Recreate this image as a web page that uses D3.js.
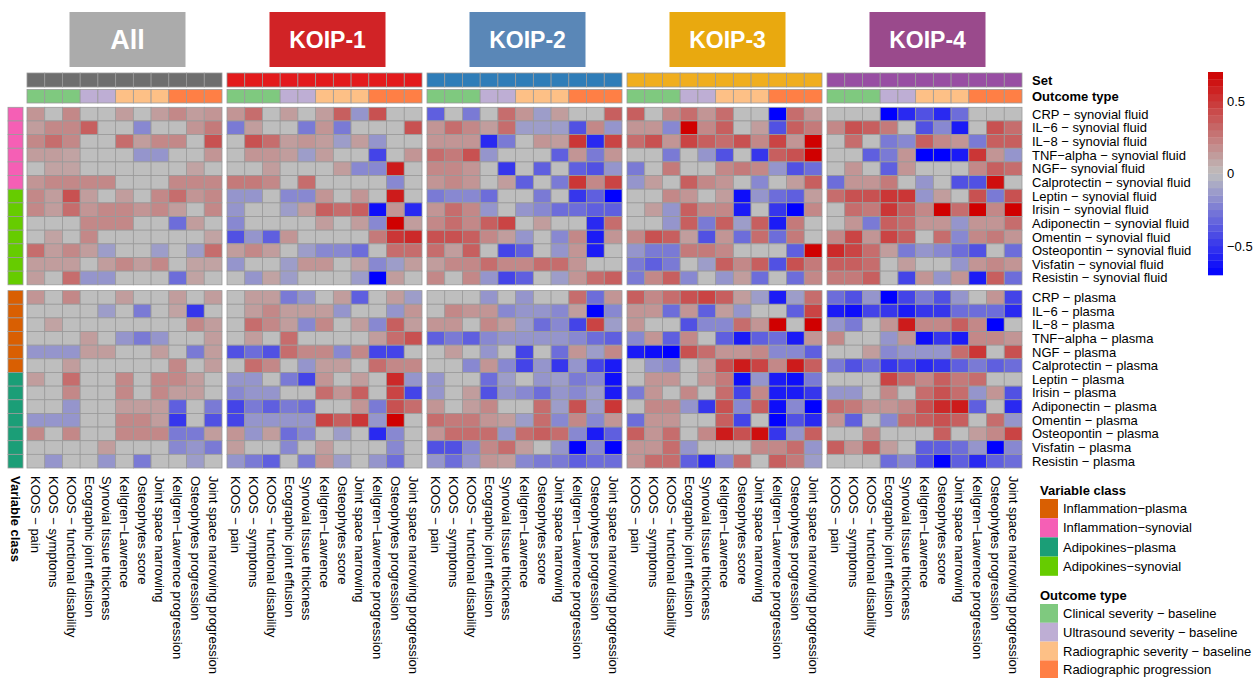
<!DOCTYPE html>
<html>
<head>
<meta charset="utf-8">
<script src="https://cdn.jsdelivr.net/npm/d3@7"></script>
<style>
  html, body { margin: 0; padding: 0; background: #fff; }
  svg { display: block; font-family: "Liberation Sans", Arial, sans-serif; }
</style>
</head>
<body>
<svg id="chart" width="1260" height="678"></svg>
<script>
// ---- Data ---------------------------------------------------------------
const panels = ["All", "KOIP-1", "KOIP-2", "KOIP-3", "KOIP-4"];
const panelTitleColors = ["#ABABAB", "#D12326", "#5A87B7", "#E9A90F", "#9A4A8C"];
const setColors = ["#6E6E6E", "#E31A1C", "#2F7DB8", "#F0AE1E", "#984EA3"];

const outcomes = [
  "KOOS − pain", "KOOS − symptoms", "KOOS − functional disability",
  "Ecographic joint effusion", "Synovial tissue thickness",
  "Kellgren−Lawrence", "Osteophytes score", "Joint space narrowing",
  "Kellgren−Lawrence progression", "Osteophytes progression",
  "Joint space narrowing progression"
];
const outcomeTypes = [
  "Clinical severity − baseline", "Clinical severity − baseline", "Clinical severity − baseline",
  "Ultrasound severity − baseline", "Ultrasound severity − baseline",
  "Radiographic severity − baseline", "Radiographic severity − baseline", "Radiographic severity − baseline",
  "Radiographic progression", "Radiographic progression", "Radiographic progression"
];
const outcomeTypeLevels = ["Clinical severity − baseline", "Ultrasound severity − baseline",
  "Radiographic severity − baseline", "Radiographic progression"];
const outcomeTypeColors = ["#7FC97F", "#BEAED4", "#FDC086", "#FF7F45"];

const synovialRows = [
  "CRP − synovial fluid", "IL−6 − synovial fluid", "IL−8 − synovial fluid",
  "TNF−alpha − synovial fluid", "NGF− synovial fluid", "Calprotectin − synovial fluid",
  "Leptin − synovial fluid", "Irisin − synovial fluid", "Adiponectin − synovial fluid",
  "Omentin − synovial fluid", "Osteopontin − synovial fluid", "Visfatin − synovial fluid",
  "Resistin − synovial fluid"
];
const plasmaRows = [
  "CRP − plasma", "IL−6 − plasma", "IL−8 − plasma", "TNF−alpha − plasma", "NGF − plasma",
  "Calprotectin − plasma", "Leptin − plasma", "Irisin − plasma", "Adiponectin − plasma",
  "Omentin − plasma", "Osteopontin − plasma", "Visfatin − plasma", "Resistin − plasma"
];
const synovialClasses = ["Inflammation−synovial","Inflammation−synovial","Inflammation−synovial",
  "Inflammation−synovial","Inflammation−synovial","Inflammation−synovial",
  "Adipokines−synovial","Adipokines−synovial","Adipokines−synovial","Adipokines−synovial",
  "Adipokines−synovial","Adipokines−synovial","Adipokines−synovial"];
const plasmaClasses = ["Inflammation−plasma","Inflammation−plasma","Inflammation−plasma",
  "Inflammation−plasma","Inflammation−plasma","Inflammation−plasma",
  "Adipokines−plasma","Adipokines−plasma","Adipokines−plasma","Adipokines−plasma",
  "Adipokines−plasma","Adipokines−plasma","Adipokines−plasma"];
const classLevels = ["Inflammation−plasma", "Inflammation−synovial", "Adipokines−plasma", "Adipokines−synovial"];
const classColors = ["#D95F02", "#F55FB5", "#1B9E77", "#66CC00"];

const legendTicks = [0.5, 0, -0.5];

// Correlations: 13 synovial rows followed by 13 plasma rows, 11 outcomes each
const valuesAll = [
  [0.15,0,0.2,0,0,0.12,0,0.12,0.2,0.12,0.15],
  [0.12,0.2,0.2,0.35,0,0,-0.2,0,0,0.15,0.25],
  [0.2,0.3,0.2,0,0,0.3,0.12,0.2,0.2,0,0.4],
  [0.12,0.12,0.1,0,0,0,-0.15,-0.15,0,0,0.15],
  [0,0.1,0.1,0,0,0,0,0,0,0.1,0],
  [0.15,0.2,0.2,0.2,0.2,0,0,0,0.2,0.2,0.2],
  [0.2,0.12,0.4,0.12,0,0.12,0,0.2,0.3,0.15,0.2],
  [0.2,0.12,0.3,0.15,0.2,0.2,0.15,0.2,0.12,0,0.2],
  [0,0,0,0.2,0.2,0.2,0,0,-0.3,0.12,0],
  [0,0.1,0,0.2,0,0,0,0,0,0,0.1],
  [0.3,0.12,0.2,0.12,-0.12,0,0,-0.12,0,-0.12,0.3],
  [0.12,0.12,0.12,0,0.12,0.2,0.12,0.2,0,0.1,0.1],
  [0.12,0,0.3,-0.15,-0.15,0,0,0,-0.3,0.1,0],
  [0.15,0,0.2,0,0,0.12,0,0,0.12,0,0.12],
  [0,0,0,0,-0.12,0,-0.25,0,0.1,-0.5,0],
  [0,0.1,0,0,0,0,0,0,0,0.2,0.12],
  [0,0,0,0.12,0,-0.15,-0.25,-0.15,0,0,0.12],
  [-0.15,-0.15,-0.15,0.12,0.12,0,0,0.12,0,-0.25,0.12],
  [0,0,0.12,0,0,0,0,0,0.2,0,0.12],
  [0.12,0,0.3,0,0,0.2,0,0.2,0.2,0.12,0],
  [0,0,0.2,0,0,0.2,0,0.2,0.12,0.12,0],
  [0,0,-0.15,0,0,0.12,0.12,0.12,-0.35,0,-0.25],
  [-0.15,-0.15,-0.15,0,0,0.2,0.2,0.12,-0.5,0,-0.4],
  [0.2,0,0.2,0,0,0.2,0.2,0.2,-0.25,-0.25,0.12],
  [0,0,0,0,0.12,0,0,0,-0.2,-0.15,-0.25],
  [0,-0.15,0,0,-0.15,0,-0.25,0,0,-0.12,0]
];
const valuesKOIP1 = [
  [0.15,0.3,0,0.12,0,0.12,0.35,-0.15,0.4,0,0],
  [-0.25,0.12,0,0,-0.25,0.15,-0.25,0,0,0,0.4],
  [0,0.4,0.3,0.12,0.15,0.12,-0.12,0.12,-0.15,0,0],
  [0,0.15,0.15,0.12,-0.12,0.12,0,0,-0.45,0,0.15],
  [0,0,0.12,0,0,0,0.12,-0.2,-0.2,0.6,0],
  [0.25,0.25,0.2,0,0.3,0,0,0,0,-0.2,0],
  [-0.15,-0.15,0,-0.2,-0.2,0.15,0,0.15,0,0.6,0],
  [-0.15,0,0,-0.12,0.12,0.35,0.3,0.35,-0.65,0.15,-0.55],
  [-0.2,0,0,0,0,0.12,0,0.12,-0.2,0.7,0.12],
  [-0.4,-0.15,-0.35,0.15,0,0,0,0,0.25,0.5,0.55],
  [0.12,0.2,0.12,0,-0.12,-0.2,-0.2,-0.3,0,0.3,0.3],
  [-0.15,0,0,-0.12,0.15,0.15,0,0.1,-0.2,-0.12,0.12],
  [0,-0.15,0.1,-0.12,0,0,0,-0.12,-0.7,0.12,0],
  [0,0.12,0.12,-0.25,-0.15,0,0.12,-0.35,0,0.12,-0.12],
  [0,0.12,0.2,0.12,0.12,0.12,-0.15,0,0,-0.15,0.15],
  [0,0.3,0.2,0.12,-0.2,0.2,0,0.12,-0.2,0.35,0.12],
  [0,0.12,0,0.3,0,0,0,0,0.12,0.3,0.4],
  [-0.4,-0.3,-0.4,0.3,0.2,0.2,-0.2,0.2,-0.45,-0.45,0],
  [0,0.3,0.2,0,-0.15,0.12,0.12,0,0.3,0.2,0.2],
  [-0.15,-0.15,0,-0.25,-0.45,0.15,0,0.12,0,0.55,-0.15],
  [-0.2,-0.15,-0.15,0,0,0.3,0.15,0.35,0,0.45,-0.45],
  [-0.45,-0.25,-0.35,-0.25,-0.3,0,0,0.15,-0.25,0.4,0.3],
  [-0.45,-0.15,-0.15,-0.15,-0.15,0.45,0.35,0.5,-0.15,0.7,0],
  [0.15,-0.15,0.12,-0.3,-0.2,0,-0.12,0,-0.55,-0.2,0],
  [0.12,0,0,-0.2,0,0.12,0,0,0,-0.2,0],
  [-0.15,-0.25,-0.35,0,-0.25,0.15,-0.12,0,-0.15,-0.3,0]
];
const valuesKOIP2 = [
  [-0.35,0,-0.25,0,0.3,0.15,-0.12,0.12,0,0,0.35],
  [0.15,0.3,0.2,0.12,0.3,-0.12,-0.12,-0.12,-0.4,0.2,-0.15],
  [0.15,0.15,0.15,-0.55,-0.25,0,0.15,0.12,0.5,-0.55,0.45],
  [0.3,0.25,0.4,-0.15,0,0,0,-0.35,0.15,-0.25,0.15],
  [0.2,0.2,0.15,0,-0.5,0,-0.35,0,-0.35,-0.4,-0.15],
  [0.15,0.2,0.15,0,0.12,-0.35,0,-0.25,0.5,0.2,0.45],
  [-0.25,-0.2,-0.2,-0.3,0,0,-0.25,0,-0.5,-0.35,-0.7],
  [0.15,0.3,0.2,-0.15,0,-0.15,-0.2,-0.3,-0.3,-0.35,-0.35],
  [0.2,0.3,0.2,0.35,0.45,0,0.12,0,0,-0.55,0.3],
  [0.4,0.4,0.35,0.2,0.12,-0.15,0,-0.2,0.2,-0.6,0.15],
  [0.3,0.12,0.35,0,-0.45,-0.35,0,-0.15,0.15,-0.6,0],
  [0.12,0.2,0.2,0.3,0.2,0.2,0.3,0.3,0.15,0,0],
  [0.2,0,0.2,-0.15,-0.45,-0.35,0,-0.12,0.15,0.3,0.35],
  [0,0,0,-0.15,0,-0.15,0,0,0.3,-0.3,0.15],
  [0,0.2,0.15,0.15,-0.2,-0.15,-0.15,-0.2,0.12,-0.7,-0.2],
  [0.15,0.15,0,0.2,0.12,-0.12,-0.3,-0.2,-0.45,0.45,-0.12],
  [-0.35,-0.25,-0.35,-0.2,-0.15,-0.15,-0.15,-0.15,-0.2,-0.3,-0.35],
  [0,0.12,0,-0.15,0,-0.45,0,-0.3,0.15,-0.12,0.2],
  [0,0,-0.2,0.15,-0.2,-0.45,-0.15,-0.5,-0.15,-0.45,-0.6],
  [-0.15,0,0,-0.3,-0.12,0,-0.15,-0.12,-0.25,-0.2,-0.65],
  [-0.15,0,0.12,-0.4,-0.15,-0.2,-0.3,-0.15,-0.2,-0.12,-0.6],
  [0.15,0,0.12,0.2,0,0,0.3,-0.12,0.4,-0.12,0.5],
  [0.3,0.25,0.25,0.15,0.12,-0.12,0.3,-0.2,0.2,-0.2,0.15],
  [0.15,0.3,0.3,0.3,-0.15,0.3,0.35,0.3,-0.2,-0.6,-0.35],
  [-0.4,-0.4,-0.2,0.2,0.3,0.12,0,-0.15,-0.7,-0.2,-0.7],
  [-0.15,-0.3,-0.15,0.15,0.12,-0.2,-0.25,-0.25,-0.35,-0.3,-0.3]
];
const valuesKOIP3 = [
  [0.35,0,0.2,0.3,0.15,0.3,0,0,-0.7,0.3,0.15],
  [0.15,0.15,-0.2,0.7,0.2,0.35,0,0.12,-0.4,0.35,0.25],
  [0.3,0.4,0.15,0.45,0.35,0.3,0.4,0.2,0.45,0.15,0.7],
  [0,0,-0.25,0,-0.15,-0.4,0,-0.5,0.35,0.4,0.7],
  [-0.25,0,0.25,0,0,0.2,0.25,0.2,-0.15,-0.4,-0.3],
  [-0.15,0.12,0,0.35,0.2,0.15,0,-0.2,0,0.12,0.35],
  [0,0,0.2,0.15,0,0.12,-0.65,-0.15,-0.3,-0.35,0.12],
  [0,0.12,-0.15,0.35,0.2,0.2,-0.6,0,-0.5,-0.7,0.2],
  [0,0,-0.15,0.35,-0.25,0.35,-0.12,0.35,-0.6,0.25,0],
  [0.2,0.4,0.35,0.12,-0.4,0.15,-0.3,0.3,-0.3,0.25,0],
  [-0.15,-0.25,-0.25,0.25,0.25,0.2,0,0,0,-0.35,0.7],
  [-0.25,-0.35,-0.25,0,-0.12,0.35,0.2,0.35,-0.4,0.4,0.25],
  [-0.25,0.2,0.35,-0.2,0,-0.15,0.12,-0.3,0,-0.3,0.2],
  [0.35,0.2,0.3,0.4,0.45,0.35,0.12,-0.12,-0.6,-0.12,0.3],
  [0.15,0.15,-0.3,0.15,-0.35,0.12,-0.15,0,0,-0.35,0.45],
  [0.15,0,0,-0.4,-0.2,-0.2,0.3,0.15,0.7,0,0.7],
  [-0.2,0.15,-0.35,0.2,0,-0.35,-0.6,-0.35,-0.3,-0.6,0.15],
  [-0.6,-0.65,-0.7,0.4,0.3,0.15,0.15,0.2,-0.2,-0.2,-0.35],
  [0,-0.15,-0.2,0,0.12,0.4,0.6,0.45,0.2,0.6,0.35],
  [0,0.15,0.15,0,0.15,0.25,-0.65,-0.15,-0.6,-0.65,-0.25],
  [-0.25,0.15,0,0.2,0,0.3,-0.45,0.2,-0.6,-0.6,-0.5],
  [0,0.2,0.2,-0.15,-0.5,0.4,-0.2,0.35,-0.65,-0.2,-0.7],
  [-0.3,0.15,0.15,0,0,0.35,-0.45,0,-0.7,-0.4,-0.55],
  [0.35,0.15,0.3,0,0.2,0.6,0.4,0.65,-0.5,-0.15,0.35],
  [0.15,0.15,0.3,-0.15,0,0,0,0.2,0.2,0.3,-0.15],
  [0.15,0.3,0.3,-0.35,-0.55,-0.2,0.3,0,0.35,0.25,-0.12]
];
const valuesKOIP4 = [
  [0,0,0,-0.7,-0.55,-0.4,-0.55,-0.3,0,0,0],
  [0.2,0.4,0.35,0.25,0,-0.4,-0.2,-0.6,0,0.4,0.3],
  [0,0.3,0,-0.25,-0.2,0.35,0.2,0.15,-0.25,0.35,0.35],
  [0,0,-0.35,-0.25,0.15,-0.7,-0.7,-0.6,0.5,0.15,-0.15],
  [0,0.15,0,-0.35,0.15,0,0,0,0.2,0.35,0.3],
  [-0.3,0.15,0.15,0.25,0,-0.15,0,-0.4,-0.4,0.65,0],
  [0.3,0.4,0.4,0.5,0.5,-0.15,0.12,0,0.4,-0.25,0.4],
  [0,0.3,0.25,0.5,0.35,0.2,0.7,0.3,0.7,0.2,0.7],
  [0,0.15,-0.25,0.35,0.3,0.15,0.15,-0.15,0.15,0.15,0.3],
  [0.2,0.45,0.15,0.45,0.35,0,0.3,-0.2,0.2,0.25,0.15],
  [0.55,0.45,0.3,0.12,-0.25,-0.15,-0.2,-0.3,-0.4,0,-0.3],
  [0.35,0.35,0.3,0,0.12,0,0,-0.15,0.15,0.2,0.15],
  [0.25,0.25,0.35,0,-0.45,0.15,-0.15,0.15,-0.6,0.35,-0.3],
  [-0.3,-0.4,-0.15,-0.7,-0.45,-0.25,-0.4,-0.15,0,0.15,-0.45],
  [-0.6,-0.65,-0.45,-0.5,-0.6,-0.5,-0.5,-0.3,-0.3,-0.3,-0.55],
  [-0.15,-0.25,0,0.15,0.6,0.2,0.2,0.35,0.2,-0.7,0],
  [0.2,0,0,-0.15,0.15,-0.65,-0.5,-0.6,0.2,0.2,0.15],
  [0,0,0.12,-0.2,-0.15,-0.15,-0.15,0.3,0.5,0,0.4],
  [-0.25,-0.4,-0.3,-0.5,-0.45,-0.55,-0.5,-0.35,-0.25,-0.35,-0.3],
  [0,0,0,0.45,0.3,0.2,0.35,0.25,0.3,0,0],
  [-0.15,-0.15,0,0.2,0,0.3,0.4,0.3,-0.15,0.15,-0.4],
  [0.3,0.25,0.15,0.15,0.2,0.4,0.55,0.6,-0.35,0,-0.55],
  [0.15,-0.35,0,-0.2,0.3,0.35,0.4,0.35,0,0.3,-0.15],
  [0,0,0.2,0,0,0,0.35,0,0.12,0.2,0.45],
  [0.35,0.15,0.35,0.12,0,-0.35,-0.35,-0.3,-0.15,-0.7,-0.2],
  [0,0,0,-0.3,-0.2,-0.4,-0.7,-0.35,-0.55,-0.35,-0.3]
];
const panelValues = [valuesAll, valuesKOIP1, valuesKOIP2, valuesKOIP3, valuesKOIP4];

// ---- Scales -------------------------------------------------------------
const svg = d3.select("#chart");
const FONT = 13;

const panelScale = d3.scaleBand().domain(panels).range([27, 1022]).paddingInner(0.025);
const colScale = d3.scaleBand().domain(outcomes).range([0, panelScale.bandwidth()]);
const synScale = d3.scaleBand().domain(synovialRows).range([107.3, 284.8]);
const plaScale = d3.scaleBand().domain(plasmaRows).range([290.6, 468]);
const rowY = (i) => i < 13 ? synScale(synovialRows[i]) : plaScale(plasmaRows[i - 13]);
const rowH = synScale.bandwidth();

const color = d3.scaleLinear().domain([-0.7, 0, 0.7]).range(["#0000FF", "#BEBEBE", "#D00000"]).clamp(true);
const outcomeColor = d3.scaleOrdinal().domain(outcomeTypeLevels).range(outcomeTypeColors);
const classColor = d3.scaleOrdinal().domain(classLevels).range(classColors);
const BORDER = "#9A9A9A";

// ---- Panels -------------------------------------------------------------
panels.forEach((p, pi) => {
  const x0 = panelScale(p);
  const g = svg.append("g").attr("transform", `translate(${x0},0)`);
  const cx = panelScale.bandwidth() / 2;

  // panel title box
  g.append("rect").attr("x", cx - 55).attr("y", 12).attr("width", 116).attr("height", 55)
    .attr("fill", panelTitleColors[pi]);
  g.append("text").attr("x", cx + 3).attr("y", 40).attr("text-anchor", "middle")
    .attr("dominant-baseline", "central").attr("fill", "#fff")
    .attr("font-size", p === "All" ? 27 : 23).attr("font-weight", "bold").text(p);

  // Set annotation row
  g.selectAll("rect.set").data(outcomes).join("rect").attr("class", "set")
    .attr("x", d => colScale(d)).attr("y", 73).attr("width", colScale.bandwidth()).attr("height", 14)
    .attr("fill", setColors[pi]).attr("stroke", BORDER).attr("stroke-width", 0.8);
  // Outcome type annotation row
  g.selectAll("rect.otype").data(outcomes).join("rect").attr("class", "otype")
    .attr("x", d => colScale(d)).attr("y", 89.5).attr("width", colScale.bandwidth()).attr("height", 13.5)
    .attr("fill", (d, i) => outcomeColor(outcomeTypes[i])).attr("stroke", BORDER).attr("stroke-width", 0.8);

  // heatmap cells
  const cells = [];
  panelValues[pi].forEach((row, ri) => row.forEach((v, ci) => cells.push({ ri, ci, v })));
  g.selectAll("rect.cell").data(cells).join("rect").attr("class", "cell")
    .attr("x", d => colScale(outcomes[d.ci])).attr("y", d => rowY(d.ri))
    .attr("width", colScale.bandwidth()).attr("height", rowH)
    .attr("fill", d => color(d.v)).attr("stroke", BORDER).attr("stroke-width", 0.8);

  // column labels
  g.selectAll("text.col").data(outcomes).join("text").attr("class", "col")
    .attr("transform", d => `translate(${colScale(d) + colScale.bandwidth() / 2},476) rotate(90)`)
    .attr("dominant-baseline", "central").attr("font-size", FONT).attr("fill", "#000").text(d => d);
});

// ---- Row annotation (Variable class) -------------------------------------
const allRows = synovialRows.concat(plasmaRows);
const allClasses = synovialClasses.concat(plasmaClasses);
svg.selectAll("rect.vclass").data(allRows).join("rect").attr("class", "vclass")
  .attr("x", 8).attr("y", (d, i) => rowY(i)).attr("width", 15).attr("height", rowH)
  .attr("fill", (d, i) => classColor(allClasses[i])).attr("stroke", BORDER).attr("stroke-width", 0.8);
svg.append("text").attr("transform", "translate(15.5,476) rotate(90)")
  .attr("dominant-baseline", "central").attr("font-size", FONT).attr("font-weight", "bold").text("Variable class");

// ---- Row labels ----------------------------------------------------------
svg.append("text").attr("x", 1032).attr("y", 80).attr("dominant-baseline", "central")
  .attr("font-size", FONT).attr("font-weight", "bold").text("Set");
svg.append("text").attr("x", 1032).attr("y", 96.5).attr("dominant-baseline", "central")
  .attr("font-size", FONT).attr("font-weight", "bold").text("Outcome type");
svg.selectAll("text.row").data(allRows).join("text").attr("class", "row")
  .attr("x", 1032).attr("y", (d, i) => rowY(i) + rowH / 2).attr("dominant-baseline", "central")
  .attr("font-size", FONT).text(d => d);

// ---- Colour bar ----------------------------------------------------------
const barScale = d3.scaleLinear().domain([-0.7, 0.7]).range([275, 72]);
const steps = d3.range(28).map(i => -0.7 + (i + 0.5) * 1.4 / 28);
svg.selectAll("rect.bar").data(steps).join("rect").attr("class", "bar")
  .attr("x", 1208).attr("width", 15)
  .attr("y", d => barScale(d + 0.7 / 28)).attr("height", barScale(0) - barScale(1.4 / 28) + 0.3)
  .attr("fill", d => color(d));
svg.selectAll("text.tick").data(legendTicks).join("text").attr("class", "tick")
  .attr("x", 1227).attr("y", d => barScale(d)).attr("dominant-baseline", "central")
  .attr("font-size", FONT).text(d => d === 0 ? "0" : String(d).replace("-", "−"));

// ---- Discrete legends ----------------------------------------------------
function discreteLegend(title, levels, colors, y0, step) {
  svg.append("text").attr("x", 1040).attr("y", y0).attr("dominant-baseline", "central")
    .attr("font-size", FONT).attr("font-weight", "bold").text(title);
  const g = svg.append("g");
  g.selectAll("rect").data(levels).join("rect")
    .attr("x", 1040).attr("y", (d, i) => y0 + 9 + i * step).attr("width", 18).attr("height", step)
    .attr("fill", (d, i) => colors[i]);
  g.selectAll("text").data(levels).join("text")
    .attr("x", 1063).attr("y", (d, i) => y0 + 9 + i * step + step / 2).attr("dominant-baseline", "central")
    .attr("font-size", FONT).text(d => d);
}
discreteLegend("Variable class", classLevels, classColors, 490, 19.2);
discreteLegend("Outcome type", outcomeTypeLevels, outcomeTypeColors, 595, 18.8);
</script>
</body>
</html>
